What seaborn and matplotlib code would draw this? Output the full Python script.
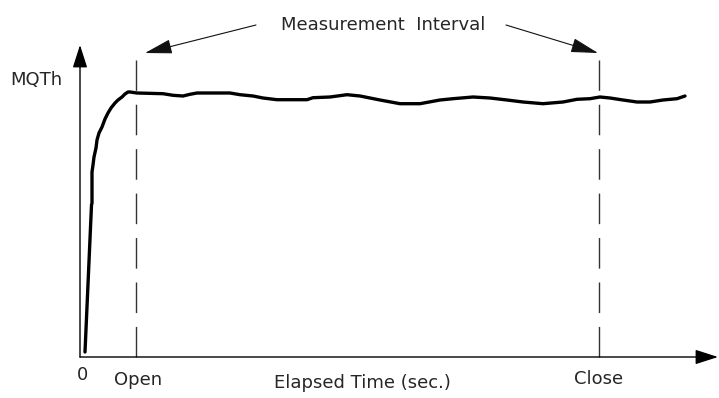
import numpy as np
import pandas as pd
import matplotlib
matplotlib.use("Agg")
import matplotlib.pyplot as plt
import seaborn as sns

# Throughput curve: elapsed time vs. MQTh (arbitrary units)
elapsed = [0.5, 1.15, 1.2, 1.2, 1.3, 1.4, 1.6, 1.7, 1.9, 2.2, 2.5, 2.8, 3.1,
           3.5, 3.8, 4.2, 4.5, 4.8, 5.0, 5.7, 8.3, 9.3, 10.3, 11.0, 11.7,
           15.0, 16.0, 17.3, 18.3, 19.7, 22.7, 23.3, 25.0, 26.7, 28.0, 30.0,
           32.0, 34.0, 36.0, 37.3, 39.3, 41.0, 42.7, 44.3, 46.3, 48.3, 49.7,
           51.0, 52.0, 53.0, 54.3, 55.7, 57.0, 58.3, 59.7, 60.5]
mqth = [0.5, 15.2, 15.4, 18.5, 19.2, 20.0, 20.9, 21.7, 22.4, 23.0, 23.8, 24.4,
        24.9, 25.4, 25.7, 26.0, 26.3, 26.5, 26.5, 26.4, 26.33, 26.17, 26.1,
        26.27, 26.4, 26.4, 26.23, 26.1, 25.9, 25.73, 25.73, 25.93, 26.0,
        26.23, 26.1, 25.7, 25.33, 25.33, 25.7, 25.83, 26.0, 25.9, 25.7, 25.5,
        25.33, 25.5, 25.77, 25.83, 26.0, 25.9, 25.7, 25.5, 25.5, 25.7, 25.83,
        26.1]

t_open = 5.6
t_close = 51.9
open_label, close_label, zero_label = "Open", "Close", "0"
x_label = "Elapsed Time (sec.)"
y_label = "MQTh"
interval_label = "Measurement  Interval"

sns.set_style("white")
plt.rcParams["font.family"] = ["DejaVu Sans"]

fig = plt.figure(figsize=(7.19, 3.98), dpi=100)
ax = fig.add_axes([0, 0, 1, 1])
ax.set_xlim(-8.0, 63.9)
ax.set_ylim(-4.1, 35.7)
ax.axis("off")

df = pd.DataFrame({"t": elapsed, "q": mqth})
sns.lineplot(data=df, x="t", y="q", ax=ax, color="black", linewidth=2.4,
             sort=False, estimator=None, solid_joinstyle="round",
             solid_capstyle="round")

# Axes with arrowheads
ax.annotate("", xy=(0, 31.2), xytext=(0, 0),
            arrowprops=dict(arrowstyle="-|>,head_length=1.4,head_width=0.45",
                            color="black", lw=1.0, shrinkA=0, shrinkB=0))
ax.annotate("", xy=(63.8, 0), xytext=(0, 0),
            arrowprops=dict(arrowstyle="-|>,head_length=1.4,head_width=0.45",
                            color="black", lw=1.0, shrinkA=0, shrinkB=0))

# Open / close markers of the measurement interval
for t in (t_open, t_close):
    ax.plot([t, t], [0, 29.7], color="#333333", lw=1.0,
            linestyle=(0, (22, 10)))

# Interval heading with arrows pointing at the two markers
ax.text(38.3 - 8.0, 33.2, interval_label, ha="center", va="center", fontsize=13)
ax.annotate("", xy=(6.5, 30.4), xytext=(17.6, 33.2),
            arrowprops=dict(arrowstyle="-|>,head_length=1.7,head_width=0.45",
                            color="#111111", lw=0.8, shrinkA=0, shrinkB=0))
ax.annotate("", xy=(51.8, 30.4), xytext=(42.6, 33.2),
            arrowprops=dict(arrowstyle="-|>,head_length=1.7,head_width=0.45",
                            color="#111111", lw=0.8, shrinkA=0, shrinkB=0))

# Labels
ax.text(-4.4, 27.7, y_label, ha="center", va="center", fontsize=13)
ax.text(0.2, -1.8, zero_label, ha="center", va="center", fontsize=13)
ax.text(t_open + 0.2, -2.3, open_label, ha="center", va="center", fontsize=13)
ax.text(t_close, -2.2, close_label, ha="center", va="center", fontsize=13)
ax.text(28.2, -2.6, x_label, ha="center", va="center", fontsize=13)

fig.savefig("out.png", dpi=100, facecolor="white")
